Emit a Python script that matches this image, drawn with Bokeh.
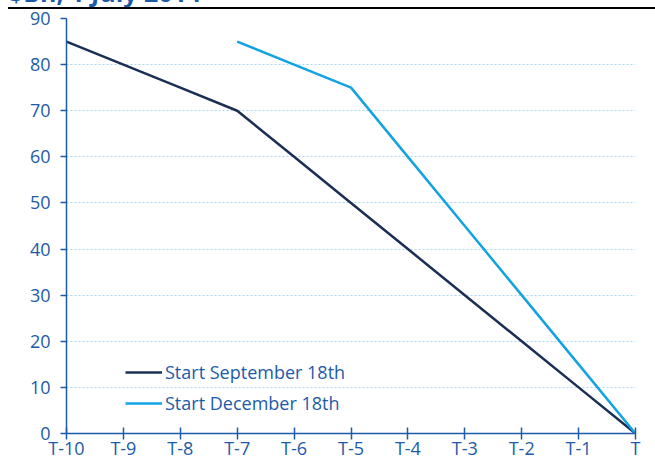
from bokeh.plotting import figure
from bokeh.layouts import column
from bokeh.models import Range1d, FixedTicker, Legend, LegendItem, Div
from bokeh.embed import file_html
from bokeh.resources import INLINE

categories = ["T-10", "T-9", "T-8", "T-7", "T-6", "T-5", "T-4", "T-3", "T-2", "T-1", "T"]
sept_values = [85, 80, 75, 70, 60, 50, 40, 30, 20, 10, 0]
dec_categories = ["T-7", "T-6", "T-5", "T-4", "T-3", "T-2", "T-1", "T"]
dec_values = [85, 80, 75, 60, 45, 30, 15, 0]
y_ticks = [0, 10, 20, 30, 40, 50, 60, 70, 80, 90]
title_text = "$Bn, 1 July 2014"

pos = {c: i for i, c in enumerate(categories)}
sept_x = [pos[c] for c in categories]
dec_x = [pos[c] for c in dec_categories]

BLUE = "#1d5ba8"
FONT = "Open Sans"

# --- header strip: title (cut off at the top, as in the original) and black rule ---
TOP_H = 9
head_html = (
    '<div style="position:absolute;left:9px;top:-25px;font-family:\'Open Sans\';'
    'font-weight:bold;font-size:25px;line-height:34px;color:%s;white-space:nowrap;">%s</div>'
    '<div style="position:absolute;left:8px;width:647px;top:7px;height:2px;background:#000;"></div>'
) % (BLUE, title_text)
head = Div(text=head_html, width=655, height=TOP_H, margin=0, disable_math=True,
           styles={"overflow": "hidden", "position": "relative"})

# --- main chart ---
p = figure(width=655, height=462 - TOP_H, output_backend="svg", toolbar_location=None,
           x_range=Range1d(0, len(categories) - 1), y_range=Range1d(0, 90),
           min_border_left=66, min_border_right=20, min_border_top=18 - TOP_H,
           min_border_bottom=29)
p.outline_line_color = None
p.background_fill_color = "white"
p.border_fill_color = "white"

p.xgrid.grid_line_color = None
p.ygrid.grid_line_color = "#a9d9f2"
p.ygrid.grid_line_dash = "2 2"
p.ygrid.grid_line_width = 1

p.yaxis.ticker = FixedTicker(ticks=y_ticks)
p.xaxis.ticker = FixedTicker(ticks=sept_x)
p.xaxis.major_label_overrides = {i: c for i, c in enumerate(categories)}

for ax in (p.xaxis[0], p.yaxis[0]):
    ax.axis_line_color = BLUE
    ax.axis_line_width = 1.5
    ax.major_tick_line_color = BLUE
    ax.major_tick_line_width = 1.5
    ax.minor_tick_line_color = None
    ax.major_label_text_color = BLUE
    ax.major_label_text_font = FONT
    ax.major_label_text_font_size = "18px"
    ax.major_label_text_font_style = "normal"

p.yaxis.major_tick_out = 6
p.yaxis.major_tick_in = 0
p.yaxis.major_label_standoff = 10
p.xaxis.major_tick_out = 6
p.xaxis.major_tick_in = 6
p.xaxis.major_label_standoff = -4

r1 = p.line(sept_x, sept_values, line_color="#1b2f55", line_width=2.5)
r2 = p.line(dec_x, dec_values, line_color="#12a3e3", line_width=2.5)

legend = Legend(items=[LegendItem(label="Start September 18th", renderers=[r1]),
                       LegendItem(label="Start December 18th", renderers=[r2])],
                location=(59, 18), background_fill_alpha=0, border_line_color=None,
                label_text_color=BLUE, label_text_font=FONT, label_text_font_size="18px",
                glyph_width=37, glyph_height=24, label_height=24, spacing=7,
                padding=0, margin=0, label_standoff=3)
p.add_layout(legend)

layout = column(head, p, spacing=0)
open("out.html", "w").write(file_html(layout, INLINE))
